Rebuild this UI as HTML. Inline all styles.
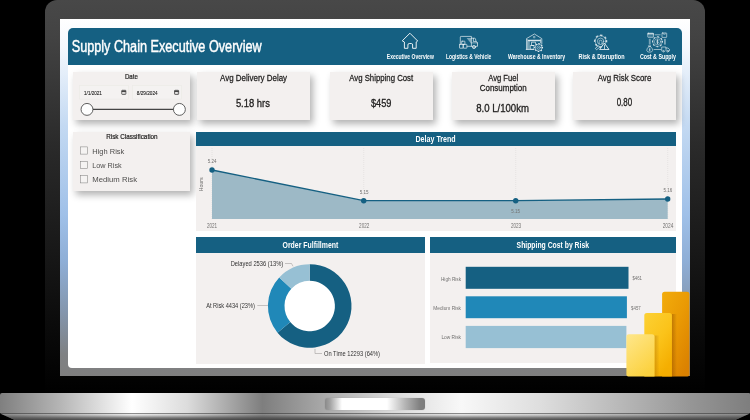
<!DOCTYPE html>
<html><head><meta charset="utf-8"><title>Supply Chain Executive Overview</title>
<style>
html,body{margin:0;padding:0;background:#000;}
body{width:750px;height:420px;position:relative;overflow:hidden;font-family:"Liberation Sans",sans-serif;}
.abs{position:absolute;}
#lid{left:45px;top:0px;width:660px;height:394px;border-radius:12px 12px 0 0;background:linear-gradient(180deg,#484848 0%,#434343 9%,#363636 24%,#2a2a2a 37%,#191919 62%,#090909 85%,#000 100%);}
#screen{left:60px;top:19px;width:630px;height:357px;background:linear-gradient(180deg,#ffffff 0%,#f4f8fd 8%,#c3d9f2 30%,#9fc0e8 55%,#8eaed6 68%,#8496ad 82%,#7f8183 94%,#7f7f7f 100%);}
#page{left:68px;top:28px;width:614px;height:340px;background:#fff;border-radius:5px 5px 4px 4px;}
#hdr{left:68px;top:28px;width:614px;height:36.5px;background:#156082;border-radius:5px 5px 0 0;}
.card{background:#f3f0ef;box-shadow:3px 4px 7px rgba(0,0,0,0.30);}
.panel{background:#f3f0ef;}
.ph{background:#156082;}
#base{left:0;top:393.3px;width:750px;height:20.2px;border-radius:2px 1px 0 0;background:linear-gradient(90deg,#7f7f7f 0%,#b5b5b5 8%,#ffffff 17.6%,#dcdcdc 25%,#7e7e7e 35%,#a8a8a8 43%,#d8d8d8 52%,#f8f8f8 61.5%,#dedede 72%,#b0b0b0 85%,#969696 92%,#7e7e7e 100%);}
#base2{left:0;top:413.4px;width:750px;height:6.6px;background:linear-gradient(180deg,rgba(255,255,255,0.28) 0%,rgba(120,120,120,0.25) 30%,rgba(70,70,70,0.7) 70%,rgba(60,60,60,0.9) 100%),linear-gradient(90deg,#7f7f7f 0%,#b5b5b5 8%,#ffffff 17.6%,#dcdcdc 25%,#7e7e7e 35%,#a8a8a8 43%,#d8d8d8 52%,#f8f8f8 61.5%,#dedede 72%,#b0b0b0 85%,#969696 92%,#7e7e7e 100%);clip-path:polygon(0 0,750px 0,735px 6.6px,15px 6.6px);}
#notch{left:325px;top:398px;width:100px;height:11.5px;border-radius:3px;background:linear-gradient(90deg,#8a8a8a 0%,#a2a2a2 5%,#ffffff 17%,#ffffff 62%,#b5b5b5 80%,#808080 95%,#7c7c7c 100%);box-shadow:0 0 1px rgba(0,0,0,0.25);}
svg text{font-family:"Liberation Sans",sans-serif;font-variant-ligatures:none;font-feature-settings:"liga" 0,"clig" 0;}
</style></head><body>
<div id="lid" class="abs"></div>
<div id="screen" class="abs"></div>
<div id="page" class="abs"></div>
<div id="hdr" class="abs"></div>

<div class="abs card" style="left:73px;top:72px;width:117px;height:48px"></div>
<div class="abs card" style="left:196.7px;top:72px;width:113.8px;height:48px"></div>
<div class="abs card" style="left:329.5px;top:72px;width:103.5px;height:48px"></div>
<div class="abs card" style="left:451.5px;top:72px;width:103.5px;height:48px"></div>
<div class="abs card" style="left:573px;top:72px;width:103px;height:48px"></div>
<div class="abs card" style="left:73px;top:132px;width:117px;height:59px"></div>
<div class="abs panel" style="left:195.7px;top:132px;width:480.3px;height:99.4px"></div>
<div class="abs ph" style="left:195.7px;top:132px;width:480.3px;height:14px"></div>
<div class="abs panel" style="left:196px;top:237.2px;width:229px;height:126.4px"></div>
<div class="abs ph" style="left:196px;top:237.2px;width:229px;height:15.7px"></div>
<div class="abs panel" style="left:430.2px;top:237.2px;width:245.8px;height:125.8px"></div>
<div class="abs ph" style="left:430.2px;top:237.2px;width:245.8px;height:15.6px"></div>
<svg class="abs" style="left:0;top:0;will-change:transform;opacity:0.999" width="750" height="420" viewBox="0 0 750 420">
<text x="71.7" y="52.3" font-size="16" font-weight="normal" fill="#fff" text-anchor="start" textLength="190" lengthAdjust="spacingAndGlyphs" stroke="#fff" stroke-width="0.448">Supply Chain Executive Overview</text>
<text x="386.8" y="59" font-size="7.2" font-weight="bold" fill="#fff" text-anchor="start" textLength="47.0" lengthAdjust="spacingAndGlyphs">Executive Overview</text>
<text x="446" y="59" font-size="7.2" font-weight="bold" fill="#fff" text-anchor="start" textLength="45.3" lengthAdjust="spacingAndGlyphs">Logistics &amp; Vehicle</text>
<text x="508" y="59" font-size="7.2" font-weight="bold" fill="#fff" text-anchor="start" textLength="57.2" lengthAdjust="spacingAndGlyphs">Warehouse &amp; Inventory</text>
<text x="578.6" y="59" font-size="7.2" font-weight="bold" fill="#fff" text-anchor="start" textLength="45.9" lengthAdjust="spacingAndGlyphs">Risk &amp; Disruption</text>
<text x="639.9" y="59" font-size="7.2" font-weight="bold" fill="#fff" text-anchor="start" textLength="36.1" lengthAdjust="spacingAndGlyphs">Cost &amp; Supply</text>
<g fill="none" stroke="#fff" stroke-linejoin="round" stroke-linecap="round">
<path d="M410.2,33.5 L417.7,41 L416.2,42 V48.3 H412.6 V45 Q412.6,43.5 411.4,43.5 H409.2 Q407.9,43.5 407.9,45 V48.3 H404.4 V42 L402.6,41 Z" stroke-width="0.95" stroke-opacity="0.95"/>
<g stroke-width="0.75" stroke-opacity="0.85">
<path d="M460.3,44 V37.2 Q460.3,36.4 461.1,36.4 H471.4 V46.3 H467.2"/>
<path d="M471.4,38.2 H474.6 Q475.3,38.2 475.5,38.9 L476,41.6 L477.5,42.6 V46.3 H475.9 M472.2,46.3 H471.4"/>
<path d="M473.4,38.4 V41.6 H476"/>
<circle cx="474" cy="47" r="1.6" fill="#fff" fill-opacity="0.45"/>
<path d="M471.6,42.9 H477.3" stroke-width="0.6"/>
<rect x="459.5" y="44.4" width="3.7" height="3.8" rx="0.4"/>
<rect x="463.2" y="44.4" width="3.7" height="3.8" rx="0.4"/>
<rect x="461.7" y="41.2" width="3.2" height="3.2" rx="0.4"/>
<path d="M466.6,38 L471,43.6 V38 Z" fill="#fff" fill-opacity="0.45" stroke="none"/>
</g>
<g stroke-width="0.75" stroke-opacity="0.85">
<path d="M526.5,49.4 V38.6 L534.4,34 L541.8,38.6 V44"/>
<path d="M527.7,49.4 V39.6 M540.6,43.6 V39.6"/>
<path d="M528.6,40.5 H540" stroke-width="1.3"/>
<path d="M529,41 V49.4 M526.2,49.4 H534.5"/>
<rect x="533.8" y="36.4" width="1.2" height="1.4" stroke-width="0.5"/>
<rect x="530.7" y="45.5" width="3.3" height="3.8"/>
<rect x="531.9" y="42.2" width="3.6" height="3.3"/>
<circle cx="538.6" cy="47.6" r="4.6" fill="#156082" stroke="none"/>
<circle cx="538.6" cy="47.6" r="3.5" stroke-width="0.6" fill="none"/><circle cx="538.6" cy="47.6" r="3.90" stroke-width="1.16" stroke-dasharray="1.47 1.59" stroke-linecap="butt" transform="rotate(-11 538.6 47.6)"/>
<circle cx="538.6" cy="47.6" r="1.7" stroke-width="0.55"/>
<circle cx="538.6" cy="47.6" r="0.45" fill="#fff" stroke="none"/>
</g>
<g stroke-width="0.7" stroke-opacity="0.72">
<circle cx="600.6" cy="41.2" r="5.4" stroke-width="0.7" fill="none"/><circle cx="600.6" cy="41.2" r="5.95" stroke-width="1.52" stroke-dasharray="2.24 2.43" stroke-linecap="butt" transform="rotate(-11 600.6 41.2)"/>
<circle cx="600.6" cy="41.3" r="3.2"/>
<path d="M599.2,43.8 V41.6 a1.4,1.4 0 0 1 2.8,0 V43.8" />
<path d="M604.5,43.4 L609,49.5 H600 Z" fill="#156082" stroke-width="0.8" stroke-opacity="1"/>
<path d="M604.5,45.2 V47.6 M604.5,48.4 V48.6" stroke-opacity="1"/>
<path d="M598.2,46 L595.3,48.4 L596.6,49.8 L599.4,47.4" stroke-opacity="0.9"/>
</g>
<g stroke-width="0.7" stroke-opacity="0.78">
<rect x="647.8" y="33.2" width="5.7" height="4.1" rx="0.4"/>
<path d="M648,33.9 H653.3" stroke-width="1.1"/>
<path d="M649,36 H650.6 M651.6,36 H652.6" stroke-width="0.5"/>
<rect x="662" y="33" width="4.7" height="4.4" rx="0.4"/>
<path d="M663.6,33.2 V34.4 H665.2 V33.2" stroke-width="0.5"/>
<path d="M655,34.8 H660.2"/>
<circle cx="657.5" cy="41.8" r="4.6" stroke-width="0.5" fill="none"/><circle cx="657.5" cy="41.8" r="4.95" stroke-width="1.00" stroke-dasharray="1.87 2.02" stroke-linecap="butt" transform="rotate(-11 657.5 41.8)"/>
<circle cx="657.5" cy="41.8" r="3.1" stroke-width="0.5"/>
<path d="M649.3,39.2 V44.2 M650.2,39.2 V44.2 M664.5,39.2 V44.2 M665.4,39.2 V44.2" stroke-width="0.55"/>
<path d="M648.6,46.8 Q646.4,49 646.8,50.6 Q647.2,52.2 649.7,52.2 Q652.2,52.2 652.6,50.6 Q653,49 650.8,46.8 Z"/>
<path d="M648.7,45.6 H650.7 L650.4,46.8 H649 Z" stroke-width="0.5"/>
<path d="M654,49.5 H660.8"/>
<path d="M661.7,50.8 V47 H666 V50.8 M666,48 H668 L669.5,49.4 V50.8 H668.8"/>
<circle cx="663.4" cy="51.2" r="0.8"/><circle cx="667.6" cy="51.2" r="0.8"/>
</g>
</g>
<g fill="none" stroke="#fff" stroke-opacity="0.9" stroke-linecap="round"><path d="M657.5,39.7 V43.9" stroke-width="0.7"/><path d="M658.5,40.8 Q657.5,40.1 656.7,40.7 Q656.1,41.5 657.5,41.8 Q658.9,42.2 658.3,43 Q657.5,43.6 656.5,42.9" stroke-width="0.45"/><path d="M649.7,48.3 V50.9 M650.2,48.9 Q649.6,48.6 649.3,49 Q649.1,49.5 649.7,49.6 Q650.4,49.8 650.1,50.3 Q649.7,50.6 649.2,50.3" stroke-width="0.45"/></g>
<text x="131.4" y="78.7" font-size="7.4" font-weight="normal" fill="#222120" text-anchor="middle" textLength="13" lengthAdjust="spacingAndGlyphs" stroke="#222120" stroke-width="0.207">Date</text>
<text x="253.6" y="80.8" font-size="9" font-weight="normal" fill="#222120" text-anchor="middle" textLength="67" lengthAdjust="spacingAndGlyphs" stroke="#222120" stroke-width="0.252">Avg Delivery Delay</text>
<text x="252.9" y="106.9" font-size="11.4" font-weight="normal" fill="#222120" text-anchor="middle" textLength="34" lengthAdjust="spacingAndGlyphs" stroke="#222120" stroke-width="0.319">5.18 hrs</text>
<text x="381.2" y="80.8" font-size="9" font-weight="normal" fill="#222120" text-anchor="middle" textLength="64" lengthAdjust="spacingAndGlyphs" stroke="#222120" stroke-width="0.252">Avg Shipping Cost</text>
<text x="381.2" y="106.9" font-size="11.4" font-weight="normal" fill="#222120" text-anchor="middle" textLength="20.5" lengthAdjust="spacingAndGlyphs" stroke="#222120" stroke-width="0.319">$459</text>
<text x="503.2" y="80.8" font-size="9" font-weight="normal" fill="#222120" text-anchor="middle" textLength="30" lengthAdjust="spacingAndGlyphs" stroke="#222120" stroke-width="0.252">Avg Fuel</text>
<text x="503.2" y="91.1" font-size="9" font-weight="normal" fill="#222120" text-anchor="middle" textLength="47" lengthAdjust="spacingAndGlyphs" stroke="#222120" stroke-width="0.252">Consumption</text>
<text x="502.6" y="111.5" font-size="11.4" font-weight="normal" fill="#222120" text-anchor="middle" textLength="52.8" lengthAdjust="spacingAndGlyphs" stroke="#222120" stroke-width="0.319">8.0 L/100km</text>
<text x="624.5" y="81.2" font-size="9" font-weight="normal" fill="#222120" text-anchor="middle" textLength="53.7" lengthAdjust="spacingAndGlyphs" stroke="#222120" stroke-width="0.252">Avg Risk Score</text>
<text x="624.4" y="105.7" font-size="10.4" font-weight="normal" fill="#222120" text-anchor="middle" textLength="15.5" lengthAdjust="spacingAndGlyphs" stroke="#222120" stroke-width="0.291">0.80</text>
<rect x="79.5" y="85.5" width="49" height="13.5" fill="#f5f3f2" stroke="#ece9e7" stroke-width="0.6"/>
<rect x="132.5" y="85.5" width="49" height="13.5" fill="#f5f3f2" stroke="#ece9e7" stroke-width="0.6"/>
<text x="84.1" y="94.9" font-size="6" font-weight="normal" fill="#222" text-anchor="start" textLength="17.7" lengthAdjust="spacingAndGlyphs" stroke="#222" stroke-width="0.12">1/1/2021</text>
<text x="136.8" y="94.9" font-size="6" font-weight="normal" fill="#222" text-anchor="start" textLength="20.8" lengthAdjust="spacingAndGlyphs" stroke="#222" stroke-width="0.12">8/29/2024</text>
<g fill="none" stroke="#333" stroke-width="0.75"><rect x="121.75" y="90.3" width="4.1" height="4.1" rx="0.5"/><path d="M121.75,91.3 h4.1" stroke-width="1.2"/><path d="M122.80000000000001,93 h0.6 M124.2,93 h0.6" stroke-width="0.6"/></g>
<g fill="none" stroke="#333" stroke-width="0.75"><rect x="174.54999999999998" y="90.3" width="4.1" height="4.1" rx="0.5"/><path d="M174.54999999999998,91.3 h4.1" stroke-width="1.2"/><path d="M175.6,93 h0.6 M177.0,93 h0.6" stroke-width="0.6"/></g>
<path d="M87,109.4 H179.4" stroke="#454545" stroke-width="1.1"/>
<circle cx="87" cy="109.4" r="5.95" fill="#fff" stroke="#454545" stroke-width="0.85"/>
<circle cx="179.4" cy="109.4" r="5.95" fill="#fff" stroke="#454545" stroke-width="0.85"/>
<text x="131.9" y="138.7" font-size="7.4" font-weight="normal" fill="#222120" text-anchor="middle" textLength="51.5" lengthAdjust="spacingAndGlyphs" stroke="#222120" stroke-width="0.207">Risk Classification</text>
<rect x="80.4" y="146.9" width="7" height="7.2" fill="#f6f4f3" stroke="#858483" stroke-width="0.55"/>
<text x="92.3" y="153.5" font-size="8" font-weight="normal" fill="#4f4e4d" text-anchor="start" textLength="32" lengthAdjust="spacingAndGlyphs">High Risk</text>
<rect x="80.4" y="161.3" width="7" height="7.2" fill="#f6f4f3" stroke="#858483" stroke-width="0.55"/>
<text x="92.3" y="167.9" font-size="8" font-weight="normal" fill="#4f4e4d" text-anchor="start" textLength="29.4" lengthAdjust="spacingAndGlyphs">Low Risk</text>
<rect x="80.4" y="175.7" width="7" height="7.2" fill="#f6f4f3" stroke="#858483" stroke-width="0.55"/>
<text x="92.3" y="182.3" font-size="8" font-weight="normal" fill="#4f4e4d" text-anchor="start" textLength="44.7" lengthAdjust="spacingAndGlyphs">Medium Risk</text>
<text x="435.6" y="142.4" font-size="8.3" font-weight="bold" fill="#fff" text-anchor="middle" textLength="40.2" lengthAdjust="spacingAndGlyphs">Delay Trend</text>
<path d="M212,148 V219" stroke="#d9d5d3" stroke-width="0.6" stroke-dasharray="0.8 1.2"/>
<path d="M363.7,148 V219" stroke="#d9d5d3" stroke-width="0.6" stroke-dasharray="0.8 1.2"/>
<path d="M515.7,148 V219" stroke="#d9d5d3" stroke-width="0.6" stroke-dasharray="0.8 1.2"/>
<path d="M667.7,148 V219" stroke="#d9d5d3" stroke-width="0.6" stroke-dasharray="0.8 1.2"/>
<polygon points="212,170 363.7,200.7 515.7,200.7 667.7,199 667.7,219 212,219" fill="#9db9c6"/>
<polyline points="212,170 363.7,200.7 515.7,200.7 667.7,199" fill="none" stroke="#156082" stroke-width="1.3"/>
<circle cx="212" cy="170" r="2.7" fill="#156082"/>
<circle cx="363.7" cy="200.7" r="2.7" fill="#156082"/>
<circle cx="515.7" cy="200.7" r="2.7" fill="#156082"/>
<circle cx="667.7" cy="199" r="2.7" fill="#156082"/>
<text x="212.2" y="162.7" font-size="6" font-weight="normal" fill="#727170" text-anchor="middle" textLength="8.8" lengthAdjust="spacingAndGlyphs">5.24</text>
<text x="364.2" y="193.7" font-size="6" font-weight="normal" fill="#727170" text-anchor="middle" textLength="8.8" lengthAdjust="spacingAndGlyphs">5.15</text>
<text x="515.7" y="213.1" font-size="6" font-weight="normal" fill="#727170" text-anchor="middle" textLength="8.8" lengthAdjust="spacingAndGlyphs">5.15</text>
<text x="667.8" y="192.4" font-size="6" font-weight="normal" fill="#727170" text-anchor="middle" textLength="8.8" lengthAdjust="spacingAndGlyphs">5.16</text>
<text x="212" y="227.7" font-size="6.4" font-weight="normal" fill="#727170" text-anchor="middle" textLength="10.2" lengthAdjust="spacingAndGlyphs">2021</text>
<text x="364.2" y="227.7" font-size="6.4" font-weight="normal" fill="#727170" text-anchor="middle" textLength="10.2" lengthAdjust="spacingAndGlyphs">2022</text>
<text x="516" y="227.7" font-size="6.4" font-weight="normal" fill="#727170" text-anchor="middle" textLength="10.2" lengthAdjust="spacingAndGlyphs">2023</text>
<text x="668" y="227.7" font-size="6.4" font-weight="normal" fill="#727170" text-anchor="middle" textLength="10.6" lengthAdjust="spacingAndGlyphs">2024</text>
<text transform="translate(203.3,184.3) rotate(-90)" font-size="6" fill="#727170" text-anchor="middle" textLength="14" lengthAdjust="spacingAndGlyphs">Hours</text>
<text x="310.4" y="248.4" font-size="8.9" font-weight="bold" fill="#fff" text-anchor="middle" textLength="55.8" lengthAdjust="spacingAndGlyphs">Order Fulfillment</text>
<circle cx="309.7" cy="306" r="25.5" fill="#fff"/>
<path d="M309.70,264.20 A41.8,41.8 0 1 1 277.49,332.64 L290.28,322.06 A25.2,25.2 0 1 0 309.70,280.80 Z" fill="#156082"/>
<path d="M277.49,332.64 A41.8,41.8 0 0 1 279.23,277.39 L291.33,288.75 A25.2,25.2 0 0 0 290.28,322.06 Z" fill="#2088b8"/>
<path d="M279.23,277.39 A41.8,41.8 0 0 1 309.70,264.20 L309.70,280.80 A25.2,25.2 0 0 0 291.33,288.75 Z" fill="#97c0d4"/>
<text x="230.7" y="265.7" font-size="6.9" font-weight="normal" fill="#333" text-anchor="start" textLength="52.5" lengthAdjust="spacingAndGlyphs">Delayed 2536 (13%)</text>
<text x="206.2" y="307.6" font-size="6.9" font-weight="normal" fill="#333" text-anchor="start" textLength="48.7" lengthAdjust="spacingAndGlyphs">At Risk 4434 (23%)</text>
<text x="324" y="355.6" font-size="6.9" font-weight="normal" fill="#333" text-anchor="start" textLength="56" lengthAdjust="spacingAndGlyphs">On Time 12293 (64%)</text>
<g fill="none" stroke="#a3a09e" stroke-width="0.6"><path d="M285,263.5 H291.5 L293,266.3"/><path d="M257.3,305.5 H268"/><path d="M315,349 V353.5 H322"/></g>
<text x="552.8" y="248.4" font-size="8.8" font-weight="bold" fill="#fff" text-anchor="middle" textLength="72.4" lengthAdjust="spacingAndGlyphs">Shipping Cost by Risk</text>
<rect x="465.7" y="266.8" width="162.8" height="22" fill="#156082"/>
<rect x="465.7" y="296.3" width="161.2" height="21.9" fill="#2088b8"/>
<rect x="465.7" y="325.9" width="160.7" height="22.2" fill="#97c0d4"/>
<text x="461" y="280.6" font-size="5.8" font-weight="normal" fill="#727170" text-anchor="end" textLength="20" lengthAdjust="spacingAndGlyphs">High Risk</text>
<text x="461" y="310.2" font-size="5.8" font-weight="normal" fill="#727170" text-anchor="end" textLength="27.7" lengthAdjust="spacingAndGlyphs">Medium Risk</text>
<text x="461" y="339.4" font-size="5.8" font-weight="normal" fill="#727170" text-anchor="end" textLength="19.6" lengthAdjust="spacingAndGlyphs">Low Risk</text>
<text x="632.4" y="279.8" font-size="5.5" font-weight="normal" fill="#727170" text-anchor="start" textLength="9.6" lengthAdjust="spacingAndGlyphs">$461</text>
<text x="631.1" y="309.6" font-size="5.5" font-weight="normal" fill="#727170" text-anchor="start" textLength="9.6" lengthAdjust="spacingAndGlyphs">$457</text>
<defs>
<linearGradient id="g1" x1="0" y1="0" x2="0.75" y2="1"><stop offset="0" stop-color="#f2ac0b"/><stop offset="0.5" stop-color="#ea9a04"/><stop offset="1" stop-color="#dc8200"/></linearGradient>
<linearGradient id="g2" x1="0" y1="0" x2="0.6" y2="1"><stop offset="0" stop-color="#fcd135"/><stop offset="0.55" stop-color="#fbc31a"/><stop offset="1" stop-color="#f5ae00"/></linearGradient>
<linearGradient id="g3" x1="0" y1="0" x2="0.6" y2="1"><stop offset="0" stop-color="#fee78c"/><stop offset="1" stop-color="#fcd240"/></linearGradient>
<linearGradient id="sh" x1="0" y1="0" x2="1" y2="0"><stop offset="0" stop-color="#7a3c00" stop-opacity="0.38"/><stop offset="1" stop-color="#7a3c00" stop-opacity="0"/></linearGradient>
</defs>
<path d="M662.1,376.4 V294.2 Q662.1,291.7 664.6,291.7 H687 Q689.5,291.7 689.5,294.2 V374.4 Q689.5,376.4 687.5,376.4 Z" fill="url(#g1)"/>
<rect x="671.9" y="314" width="5" height="62.4" fill="url(#sh)"/>
<path d="M644.3,376.4 V315.4 Q644.3,312.9 646.8,312.9 H669.4 Q671.9,312.9 671.9,315.4 V376.4 Z" fill="url(#g2)"/>
<rect x="654.5" y="335.5" width="5" height="40.9" fill="url(#sh)" opacity="0.7"/>
<path d="M626.4,374.4 V336.8 Q626.4,334.3 628.9,334.3 H652 Q654.5,334.3 654.5,336.8 V376.4 H628.4 Q626.4,376.4 626.4,374.4 Z" fill="url(#g3)"/>

</svg>
<div id="base" class="abs"></div><div id="base2" class="abs"></div><div id="notch" class="abs"></div>
</body></html>
